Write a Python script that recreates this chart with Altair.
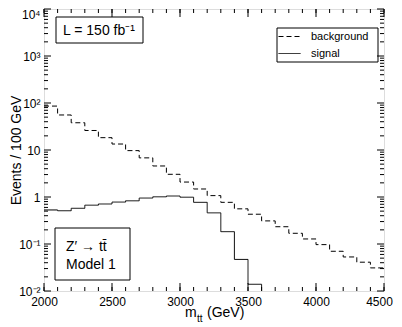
import altair as alt
import pandas as pd

# ---- data ----
bin_low = list(range(2000, 4500, 100))  # 25 bins of 100 GeV
bin_width = 100
background = [86, 55.6, 38, 26, 18.3, 13.4, 9.7, 6.8, 4.57, 3.04, 2.08, 1.48, 1.07,
              0.77, 0.56, 0.43, 0.31, 0.233, 0.169, 0.128, 0.097, 0.070, 0.053, 0.041, 0.031]
signal = [0.53, 0.51, 0.575, 0.67, 0.71, 0.78, 0.83, 0.95, 1.01, 1.05, 0.99, 0.77, 0.46,
          0.183, 0.047, 0.0139, 0, 0, 0, 0, 0, 0, 0, 0, 0]
series_names = ["background", "signal"]

x_tick_values = [2000, 2500, 3000, 3500, 4000, 4500]
x_minor_values = list(range(2000, 4501, 100))
y_tick_values = [0.01, 0.1, 1, 10, 100, 1000, 10000]
y_tick_labels = ["10⁻²", "10⁻¹", "1", "10", "10²", "10³", "10⁴"]
y_minor_values = [m * 10 ** k for k in range(-2, 4) for m in range(2, 10)]

FONT = "Liberation Sans"
W, H = 340, 282
LOG_FLOOR = 1e-3  # empty bins drawn below the axis (clipped)

rows = []
for name, vals in zip(series_names, [background, signal]):
    for lo, v in zip(bin_low, vals):
        rows.append({"series": name, "mass": lo, "events": max(v, LOG_FLOOR)})
    rows.append({"series": name, "mass": bin_low[-1] + bin_width, "events": max(vals[-1], LOG_FLOOR)})
df = pd.DataFrame(rows)

xscale = alt.Scale(domain=[2000, 4500], nice=False, zero=False)
yscale = alt.Scale(type="log", domain=[0.01, 10000], nice=False)

label_expr = "[" + ",".join("'" + s + "'" for s in y_tick_labels) + "][round(log(datum.value)/LN10)+2]"

hist = alt.Chart(df).mark_line(interpolate="step-after", clip=True, color="black", strokeWidth=1).encode(
    x=alt.X("mass:Q", scale=xscale,
            axis=alt.Axis(values=x_tick_values, ticks=False, domain=False, grid=False,
                          labelFontSize=12, labelPadding=5, title=None, format="d",
                          labelFlush=False, labelFont=FONT, labelColor="black",
                          labelOffset={"condition": {"test": "datum.value >= 4500", "value": -5}, "value": 0})),
    y=alt.Y("events:Q", scale=yscale,
            axis=alt.Axis(values=y_tick_values, ticks=False, domain=False, grid=False,
                          labelFontSize=12, labelPadding=4, labelExpr=label_expr,
                          labelFlush=False, labelOverlap=False, labelFont=FONT, labelColor="black",
                          labelBaseline={"condition": {"test": "datum.value >= 10000", "value": "top"}, "value": "middle"},
                          title="Events / 100 GeV", titleFont=FONT, titleFontSize=14,
                          titleFontWeight="normal", titleColor="black",
                          titleX=-28, titleY=H / 2, titleBaseline="middle")),
    strokeDash=alt.StrokeDash("series:N",
                              scale=alt.Scale(domain=series_names, range=[[5, 3], [1, 0]]),
                              legend=alt.Legend(title=None, orient="none", legendX=234, legendY=16,
                                                padding=0, symbolType="stroke",
                                                symbolSize=484, symbolStrokeColor="black",
                                                symbolStrokeWidth=1, labelFontSize=11, labelFont=FONT,
                                                labelColor="black", rowPadding=0, labelOffset=10)),
)

# ---- inside ticks, mirrored on all sides ----
def xticks(vals, length):
    d = pd.DataFrame({"v": vals})
    base = alt.Chart(d).mark_rule(color="black", strokeWidth=1)
    return [
        base.encode(x=alt.X("v:Q", scale=xscale), y=alt.value(H), y2=alt.value(H - length)),
        base.encode(x=alt.X("v:Q", scale=xscale), y=alt.value(0), y2=alt.value(length)),
    ]

def yticks(vals, length):
    d = pd.DataFrame({"v": vals})
    base = alt.Chart(d).mark_rule(color="black", strokeWidth=1)
    return [
        base.encode(y=alt.Y("v:Q", scale=yscale), x=alt.value(0), x2=alt.value(length)),
        base.encode(y=alt.Y("v:Q", scale=yscale), x=alt.value(W), x2=alt.value(W - length)),
    ]

ticks = xticks(x_tick_values, 8) + xticks(x_minor_values, 4) + yticks(y_tick_values, 7) + yticks(y_minor_values, 4)

one = pd.DataFrame({"a": [0]})
legend_box = alt.Chart(one).mark_rect(fill="white", stroke="black", strokeWidth=1).encode(
    x=alt.value(233), x2=alt.value(334), y=alt.value(19), y2=alt.value(53))
box1 = alt.Chart(one).mark_rect(fill="white", stroke="black", strokeWidth=1).encode(
    x=alt.value(12), x2=alt.value(99), y=alt.value(8), y2=alt.value(34))
txt1 = alt.Chart(one).mark_text(font=FONT, fontSize=14, align="center", baseline="middle", color="black").encode(
    x=alt.value(55), y=alt.value(22), text=alt.value("L = 150 fb⁻¹"))
box2 = alt.Chart(one).mark_rect(fill="white", stroke="black", strokeWidth=1).encode(
    x=alt.value(11), x2=alt.value(86), y=alt.value(219), y2=alt.value(271))
txt2 = alt.Chart(one).mark_text(font=FONT, fontSize=14, align="left", baseline="middle", color="black").encode(
    x=alt.value(22), y=alt.value(238), text=alt.value("Z′ →  tt̄"))
txt3 = alt.Chart(one).mark_text(font=FONT, fontSize=14, align="left", baseline="middle", color="black").encode(
    x=alt.value(22), y=alt.value(256), text=alt.value("Model 1"))

# x-axis title m_tt (GeV)
xt_m = alt.Chart(one).mark_text(font=FONT, fontSize=14, align="left", baseline="alphabetic", color="black").encode(
    x=alt.value(141), y=alt.value(308), text=alt.value("m"))
xt_tt = alt.Chart(one).mark_text(font=FONT, fontSize=10, align="left", baseline="alphabetic", color="black").encode(
    x=alt.value(153), y=alt.value(313), text=alt.value("tt"))
xt_gev = alt.Chart(one).mark_text(font=FONT, fontSize=14, align="left", baseline="alphabetic", color="black").encode(
    x=alt.value(163), y=alt.value(308), text=alt.value("(GeV)"))

chart = alt.layer(legend_box, hist, *ticks, box1, txt1, box2, txt2, txt3, xt_m, xt_tt, xt_gev).properties(
    width=W, height=H,
    autosize=alt.AutoSizeParams(type="none"),
    padding={"left": 36, "top": 1, "right": 10, "bottom": 36},
).configure_view(stroke="black", strokeWidth=1).configure(background="white")

chart.save("out.html", embed_options={"renderer": "svg", "actions": False})
